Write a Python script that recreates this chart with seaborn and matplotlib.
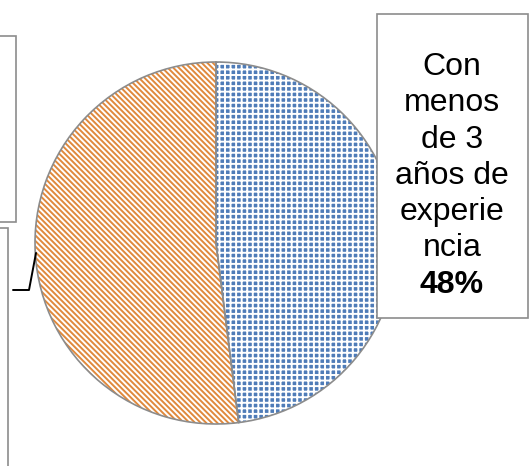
import matplotlib
matplotlib.use("Agg")
import matplotlib.pyplot as plt
import seaborn as sns
from matplotlib.patches import Rectangle

# datos del gráfico
categorias = ["Con menos de 3 años de experiencia", "Con 3 años o más de experiencia"]
porcentajes = [48, 52]
lineas_etiqueta = ["Con", "menos", "de 3", "años de", "experie", "ncia"]
etiqueta_valor = "48%"

# relleno / color de trama por porción
rellenos = ["#4f7cb8", "white"]
colores_trama = ["white", "#e0893c"]
tramas = ["+++", "\\\\\\\\\\\\"]

sns.set_theme(style="white")
plt.rcParams['font.family'] = ['Liberation Sans', 'DejaVu Sans']
plt.rcParams['hatch.linewidth'] = 1.4

W, H = 529, 466
fig = plt.figure(figsize=(W / 100, H / 100), dpi=100)
ax = fig.add_axes([0, 0, 1, 1])

centro = (216, H - 243)
radio = 181

# relleno con trama
cunas, _ = ax.pie(porcentajes, center=centro, radius=radio, startangle=90,
                  counterclock=False, frame=True)
for c, fc, col, tr in zip(cunas, rellenos, colores_trama, tramas):
    c.set_facecolor(fc)
    c.set_edgecolor(col)
    c.set_hatch(tr)
    c.set_linewidth(0)

# contorno gris
ax.pie(porcentajes, center=centro, radius=radio, startangle=90,
       counterclock=False, frame=True,
       wedgeprops=dict(fill=False, edgecolor="#8c8c8c", linewidth=1.2))
ax.set_xlim(0, W)
ax.set_ylim(0, H)
ax.axis('off')

# cajas de etiquetas (izquierda cortadas)
ax.add_patch(Rectangle((-5, H - 222), 21, 186, facecolor="white",
                       edgecolor="#8c8c8c", linewidth=1.2, zorder=5))
ax.add_patch(Rectangle((-5, -5), 13, H - 228 + 5, facecolor="white",
                       edgecolor="#8c8c8c", linewidth=1.2, zorder=5))
ax.plot([13, 29, 36], [H - 290, H - 290, H - 253], color="black",
        linewidth=1.4, zorder=6)

# caja derecha
ax.add_patch(Rectangle((377, H - 318), 151, 304, facecolor="white",
                       edgecolor="#8c8c8c", linewidth=1.2, zorder=5))
for i, linea in enumerate(lineas_etiqueta):
    ax.text(452, H - (75 + i * 36.3), linea, ha='center', va='baseline',
            fontsize=23, color="black", zorder=7)
ax.text(452, H - (75 + 6 * 36.3), etiqueta_valor, ha='center', va='baseline',
        fontsize=23, fontweight='bold', color="black", zorder=7)

fig.savefig("out.png", dpi=100)
